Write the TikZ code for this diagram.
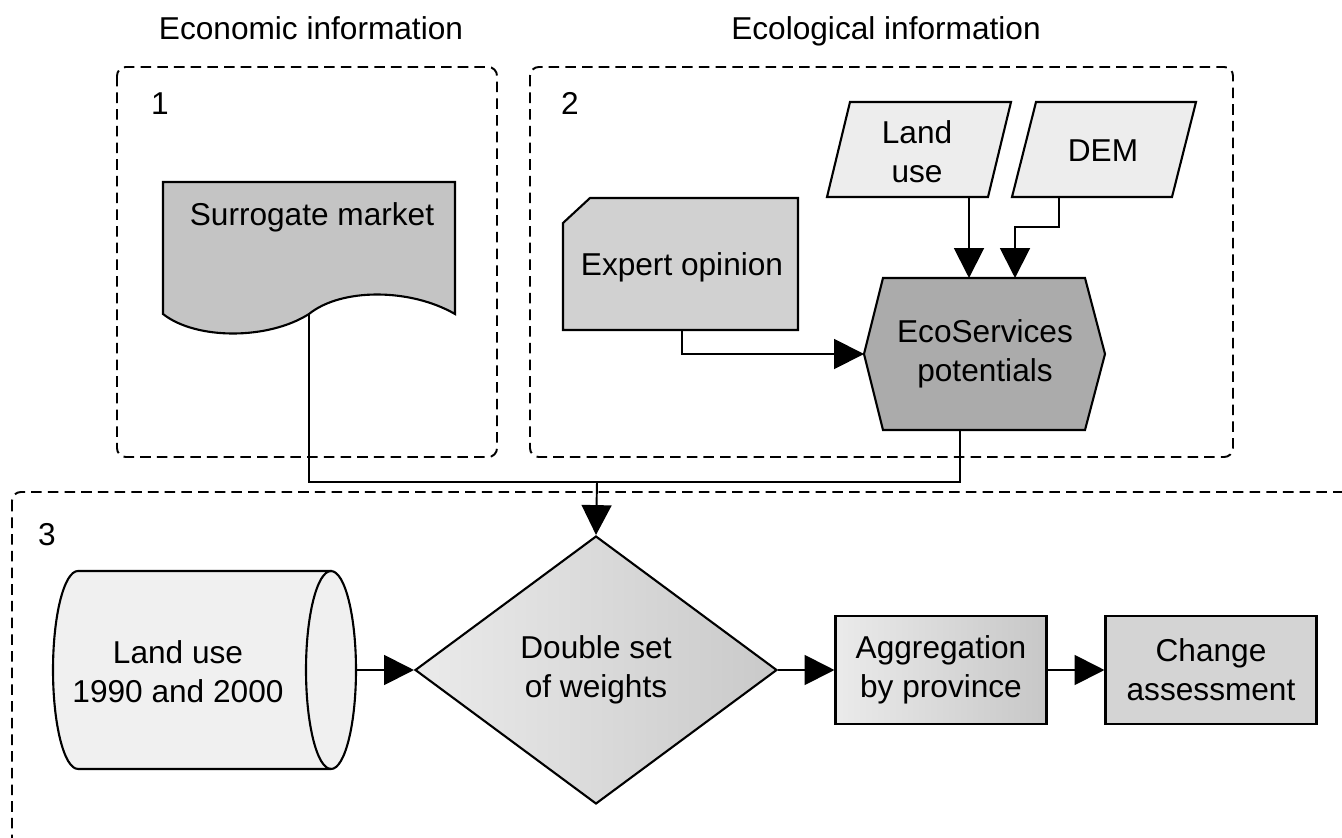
\documentclass[tikz,border=0pt]{standalone}
\usepackage{fontspec}
\setmainfont{Liberation Sans}
\usetikzlibrary{shapes.geometric,arrows.meta,calc}

\begin{document}
\begin{tikzpicture}
  [x=0.02cm, y=-0.02cm,
  every node/.style={font=\fontsize{18}{22}\selectfont, align=center, inner sep=0pt},
  groupbox/.style={dash pattern=on 6pt off 3.5pt, line width=1.1pt, rounded corners=5pt},
  outline/.style={draw, line width=1.2pt},
  procbox/.style={outline, minimum width=4.22cm, minimum height=2.16cm},
  link/.style={line width=1.1pt},
  flow/.style={line width=1.1pt, -{Triangle[length=17pt,width=17pt]}}]

  \useasboundingbox (0,0) rectangle (1342,838);
  \clip (0,0) rectangle (1342,838);

  % groups
  \node[anchor=base] (econ) at (311,40) {Economic information};
  \node[anchor=base] (ecol) at (886,40) {Ecological information};
  \draw[groupbox] (117,67) rectangle (497,457);
  \draw[groupbox] (530,67) rectangle (1233,457);
  \draw[groupbox] (12,492) rectangle (1420,920);
  \node[anchor=base] (g1) at (160,114) {1};
  \node[anchor=base] (g2) at (570,114) {2};
  \node[anchor=base] (g3) at (47,545) {3};

  % shapes
  \draw[outline, fill=black!23] (163,182) -- (455,182) -- (455,314)
    .. controls (410,288) and (341,288) .. (309,314)
    .. controls (268,340) and (196,340) .. (163,314) -- cycle;
  \draw[outline, fill=black!18] (590,198) -- (798,198) -- (798,330) -- (563,330) -- (563,223) -- cycle;
  \draw[outline, fill=black!7] (850,102) -- (1011,102) -- (988,197) -- (827,197) -- cycle;
  \draw[outline, fill=black!7] (1036,102) -- (1196,102) -- (1172,197) -- (1012,197) -- cycle;
  \draw[outline, fill=black!33] (883,278) -- (1085,278) -- (1105,354) -- (1085,430) -- (883,430) -- (864,354) -- cycle;
  \draw[outline, fill=black!6] (331,571) -- (78,571) arc[start angle=90, end angle=270, x radius=0.5cm, y radius=1.98cm]
    -- (331,769) arc[start angle=-90, end angle=90, x radius=0.5cm, y radius=1.98cm] -- cycle;
  \draw[outline] (331,571) arc[start angle=90, end angle=270, x radius=0.5cm, y radius=1.98cm];

  % texts
  \node[anchor=base] (surr) at (312,225) {Surrogate market};
  \node[anchor=base] (expert) at (682,275) {Expert opinion};
  \node (landin) at (917,152) {Land\\use};
  \node[anchor=base] (dem) at (1103,161) {DEM};
  \node (eco) at (985,354) {EcoServices\\potentials};
  \node (store) at (178,672) {Land use\\1990 and 2000};
  \node[diamond, outline, left color=black!8, right color=black!21, minimum width=7.24cm, minimum height=5.36cm]
    (weights) at (596,670) {Double set\\of weights};
  \node[procbox, left color=black!8, right color=black!22] (aggr) at (941,670) {Aggregation\\by province};
  \node[procbox, fill=black!17] (chg) at (1211,670) {Change\\assessment};

  % connector ends
  \coordinate (surr-out) at (309,314);
  \coordinate (expert-out) at (682,330);
  \coordinate (lu-out) at (969,197);
  \coordinate (dem-out) at (1059,197);
  \coordinate (eco-in1) at (969,278);
  \coordinate (eco-in2) at (1015,278);
  \coordinate (eco-in3) at (864,354);
  \coordinate (eco-out) at (960,430);
  \coordinate (join) at (597,482);
  \coordinate (store-out) at (356,670);

  \draw[flow] (lu-out) -- (eco-in1);
  \draw[flow] (dem-out) -- ++(0,30) -| (eco-in2);
  \draw[flow] (expert-out) |- (eco-in3);
  \draw[link] (surr-out) |- (join) -| (eco-out);
  \draw[flow] (join) -- (weights.north);
  \draw[flow] (store-out) -- (weights.west);
  \draw[flow] (weights.east) -- (aggr.west);
  \draw[flow] (aggr) -- (chg);
\end{tikzpicture}
\end{document}
